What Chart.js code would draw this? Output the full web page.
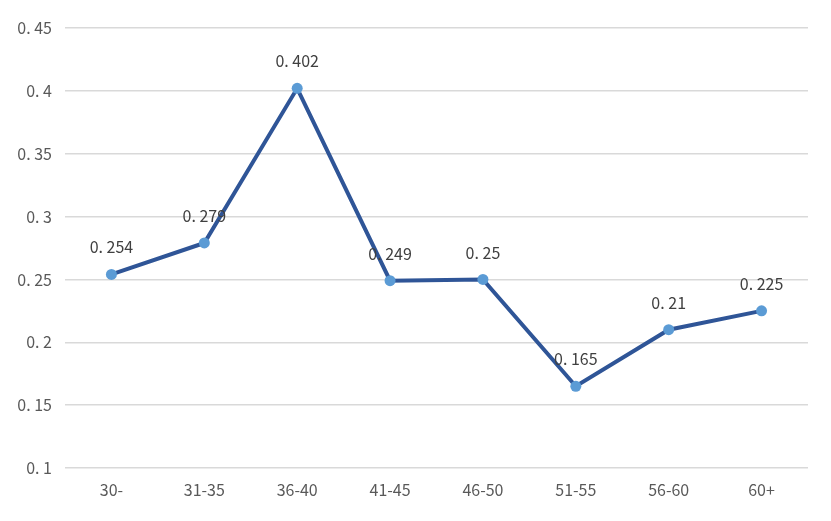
<!DOCTYPE html>
<html>
<head>
<meta charset="utf-8">
<script src="https://cdn.jsdelivr.net/npm/chart.js@4"></script>
<style>
  html, body { margin: 0; padding: 0; background: #fff; }
  #wrap { width: 831px; height: 521px; }
</style>
</head>
<body>
<div id="wrap"><canvas id="myChart" width="831" height="521"></canvas></div>
<script>
var categories = ["30-", "31-35", "36-40", "41-45", "46-50", "51-55", "56-60", "60+"];
var rates = [0.254, 0.279, 0.402, 0.249, 0.25, 0.165, 0.21, 0.225];
var rateLabels = ["0.254", "0.279", "0.402", "0.249", "0.25", "0.165", "0.21", "0.225"];
var yTicks = [0.1, 0.15, 0.2, 0.25, 0.3, 0.35, 0.4, 0.45];

var fontFamily = "'Noto Sans CJK SC', 'Noto Sans', sans-serif";

function spaced(s) {
	return s.replace(".", ". ");
}

// draws the value above each point
var valueLabels = {
	id: "valueLabels",
	afterDatasetsDraw: function (chart) {
		var ctx = chart.ctx;
		var meta = chart.getDatasetMeta(0);
		ctx.save();
		ctx.font = "16px " + fontFamily;
		ctx.fillStyle = "#404040";
		ctx.textAlign = "center";
		ctx.textBaseline = "middle";
		meta.data.forEach(function (pt, i) {
			ctx.fillText(spaced(rateLabels[i]), pt.x, pt.y - 27);
		});
		ctx.restore();
	}
};

var ctx = document.getElementById("myChart").getContext("2d");

var myLineChart = new Chart(ctx, {
	type: "line",
	data: {
		labels: categories,
		datasets: [{
			data: rates,
			borderColor: "#2F5597",
			borderWidth: 4,
			pointBackgroundColor: "#5B9BD5",
			pointBorderColor: "#5B9BD5",
			pointRadius: 5.5,
			pointBorderWidth: 0,
			tension: 0
		}]
	},
	options: {
		responsive: false,
		animation: false,
		layout: { padding: { top: 28, right: 23, left: 0, bottom: 0 } },
		plugins: {
			legend: { display: false },
			tooltip: { enabled: false }
		},
		scales: {
			x: {
				offset: true,
				grid: { display: false, drawTicks: false },
				border: { display: false },
				ticks: {
					color: "#595959",
					font: { size: 16, family: fontFamily },
					padding: 12
				},
				afterFit: function (scale) { scale.height = 53; }
			},
			y: {
				min: 0.1,
				max: 0.45,
				grid: { color: "#D9D9D9", lineWidth: 1.5, drawTicks: false },
				border: { display: false },
				afterBuildTicks: function (scale) {
					scale.ticks = yTicks.map(function (v) { return { value: v }; });
				},
				ticks: {
					color: "#595959",
					font: { size: 16, family: fontFamily },
					padding: 13,
					callback: function (v) {
						return spaced(String(Math.round(v * 100) / 100));
					}
				},
				afterFit: function (scale) { scale.width = 65; }
			}
		}
	},
	plugins: [valueLabels]
});
</script>
</body>
</html>
